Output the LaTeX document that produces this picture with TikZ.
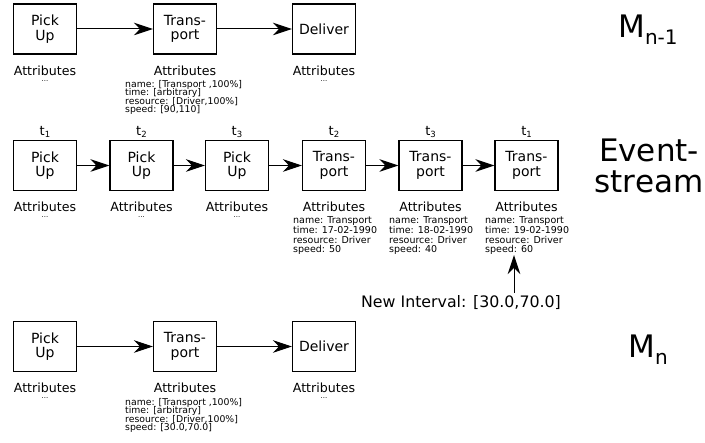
\documentclass[tikz,border=0pt]{standalone}
\usepackage{fontspec}
\setmainfont{DejaVu Sans}
\usetikzlibrary{arrows.meta}

% lowered index in a smaller size
\newcommand{\subidx}[3]{\raisebox{-#1}{\fontsize{#2}{#2}\selectfont #3}}
% small text with a fixed line pitch
\newcommand{\smalllines}[2]{\fontsize{#1}{#2}\selectfont\lineskiplimit=-20pt\relax}

\tikzset{
  act/.style={draw, line width=1.1pt, minimum width=63pt, minimum height=50pt,
    inner sep=0pt, align=center, font=\fontsize{14}{14.5}\selectfont},
  attr/.style={inner sep=0pt, font=\fontsize{12.6}{14}\selectfont},
  dots/.style={inner sep=0pt, font=\fontsize{7}{8}\selectfont},
  info/.style={inner sep=0pt, align=left, anchor=north west,
    font=\smalllines{9.3}{8.4}},
  evinfo/.style={info, font=\smalllines{9.5}{9.7}},
  stamp/.style={inner sep=0pt, font=\fontsize{13}{14}\selectfont},
  model/.style={inner sep=0pt, align=center, font=\fontsize{31}{31}\selectfont},
  flow/.style={-{Stealth[length=19pt,width=12.5pt,inset=6pt]}, line width=1pt}
}

\begin{document}
\begin{tikzpicture}[x=1pt,y=1pt]
\useasboundingbox (0,0) rectangle (705,-443);

% model M_{n-1}
\node[act] (pu) at (45,-29) {Pick\\Up};
\node[act] (tr) at (185,-29) {Trans-\\port};
\node[act] (de) at (324,-29) {Deliver};

\node[attr] (pua) at (45,-70.5) {Attributes};
\node[attr] (tra) at (185,-70.5) {Attributes};
\node[attr] (dea) at (324,-70.5) {Attributes};
\node[dots] (pud) at (45,-81) {...};
\node[dots] (ded) at (324,-81) {...};
\node[info] (tri) at (125,-80) {name: [Transport ,100\%]\\time: [arbitrary]\\resource: [Driver,100\%]\\speed: [90,110]};

\draw[flow] (pu) -- (tr);
\draw[flow] (tr) -- (de);

% event stream
\node[act] (e1) at (45,-165.5) {Pick\\Up};
\node[act] (e2) at (141.5,-165.5) {Pick\\Up};
\node[act] (e3) at (237,-165.5) {Pick\\Up};
\node[act] (e4) at (334,-165.5) {Trans-\\port};
\node[act] (e5) at (430.5,-165.5) {Trans-\\port};
\node[act] (e6) at (526.5,-165.5) {Trans-\\port};

\node[stamp] (t1) at (45,-132) {t\subidx{1.5pt}{8.5}{1}};
\node[stamp] (t2) at (141.5,-132) {t\subidx{1.5pt}{8.5}{2}};
\node[stamp] (t3) at (237,-132) {t\subidx{1.5pt}{8.5}{3}};
\node[stamp] (t4) at (334,-132) {t\subidx{1.5pt}{8.5}{2}};
\node[stamp] (t5) at (430.5,-132) {t\subidx{1.5pt}{8.5}{3}};
\node[stamp] (t6) at (526.5,-132) {t\subidx{1.5pt}{8.5}{1}};

\node[attr] (e1a) at (45,-207) {Attributes};
\node[attr] (e2a) at (141.5,-207) {Attributes};
\node[attr] (e3a) at (237,-207) {Attributes};
\node[attr] (e4a) at (334,-207) {Attributes};
\node[attr] (e5a) at (430.5,-207) {Attributes};
\node[attr] (e6a) at (526.5,-207) {Attributes};
\node[dots] (e1d) at (45,-217.5) {...};
\node[dots] (e2d) at (141.5,-217.5) {...};
\node[dots] (e3d) at (237,-217.5) {...};
\node[evinfo] (e4i) at (293,-216.5) {name: Transport\\time: 17-02-1990\\resource: Driver\\speed: 50};
\node[evinfo] (e5i) at (389,-216.5) {name: Transport\\time: 18-02-1990\\resource: Driver\\speed: 40};
\node[evinfo] (e6i) at (485,-216.5) {name: Transport\\time: 19-02-1990\\resource: Driver\\speed: 60};

\draw[flow] (e1) -- (e2);
\draw[flow] (e2) -- (e3);
\draw[flow] (e3) -- (e4);
\draw[flow] (e4) -- (e5);
\draw[flow] (e5) -- (e6);

\node[inner sep=3pt, font=\fontsize{15.8}{16}\selectfont] (ni) at (461,-303) {New Interval: [30.0,70.0]};
\coordinate (sp) at (514,-255);
\draw[flow] (ni.north -| sp) -- (sp);

% model M_n
\node[act] (pun) at (45,-346.5) {Pick\\Up};
\node[act] (trn) at (185,-346.5) {Trans-\\port};
\node[act] (den) at (324,-346.5) {Deliver};

\node[attr] (puna) at (45,-388) {Attributes};
\node[attr] (trna) at (185,-388) {Attributes};
\node[attr] (dena) at (324,-388) {Attributes};
\node[dots] (pund) at (45,-398.5) {...};
\node[dots] (dend) at (324,-398.5) {...};
\node[info] (trni) at (125,-398) {name: [Transport ,100\%]\\time: [arbitrary]\\resource: [Driver,100\%]\\speed: [30.0,70.0]};

\draw[flow] (pun) -- (trn);
\draw[flow] (trn) -- (den);

% row titles
\node[model] (mold) at (648,-30) {M\subidx{7pt}{20}{n-1}};
\node[model] (es) at (649,-166) {Event-\\stream};
\node[model] (mnew) at (648,-350) {M\subidx{7pt}{20}{n}};
\end{tikzpicture}
\end{document}
